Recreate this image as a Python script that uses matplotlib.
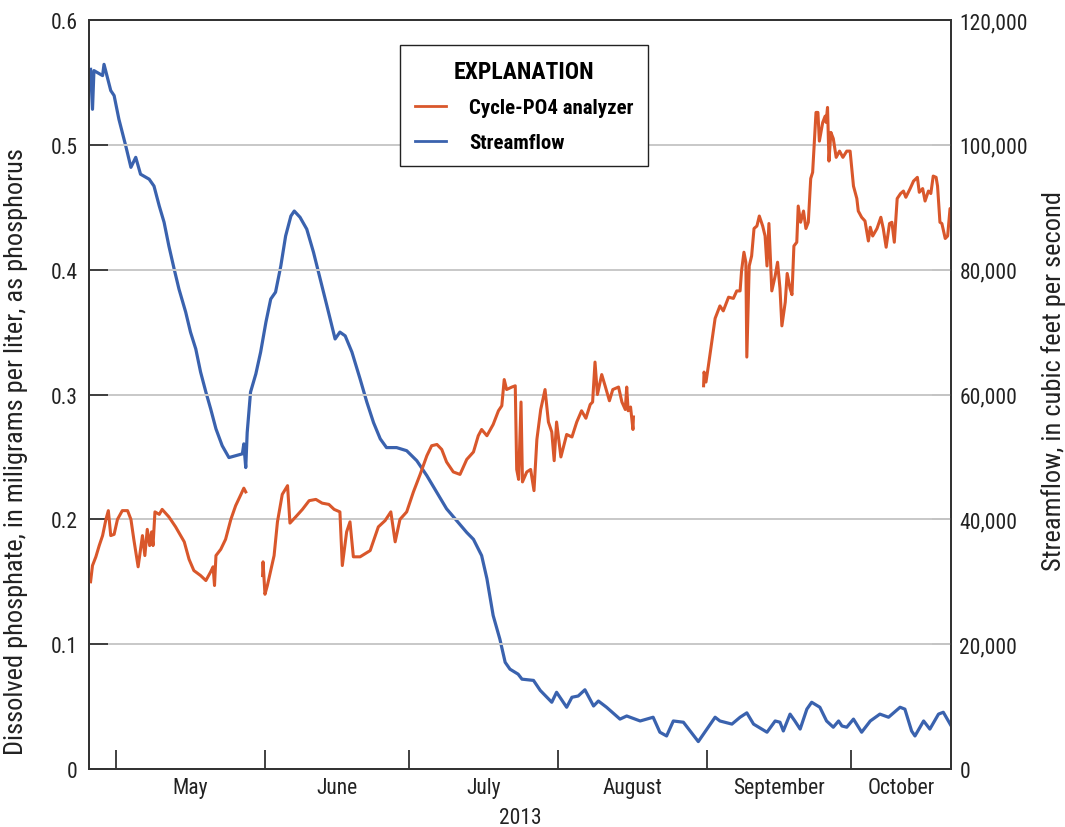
import numpy as np
import pandas as pd
import matplotlib
matplotlib.use("Agg")
import matplotlib.pyplot as plt
from matplotlib.lines import Line2D
from matplotlib.ticker import FuncFormatter, FixedLocator

plt.rcParams['font.family'] = ['Roboto Condensed', 'Liberation Sans Narrow', 'Liberation Sans', 'DejaVu Sans']

# Streamflow, cubic feet per second (x = day of year 2013)
flow_doy = [115.7, 116.1, 116.4, 117.3, 118.2, 118.5, 119.2, 119.9, 120.6, 121.6,
            122.3, 123.0, 124.1, 125.1, 126.1, 127.9, 128.9, 130.0, 131.0, 132.0,
            133.1, 134.1, 135.5, 136.5, 137.6, 138.6, 139.7, 140.7, 141.8, 143.1,
            144.5, 145.9, 147.3, 147.6, 148.0, 148.3, 149.0, 150.1, 151.1, 152.2,
            153.2, 154.2, 155.3, 156.3, 157.4, 158.1, 159.3, 160.7, 162.1, 163.5,
            164.9, 166.6, 167.6, 168.7, 170.1, 171.8, 173.2, 174.6, 176.0, 177.3,
            179.4, 181.5, 183.6, 185.7, 187.8, 189.8, 191.9, 194.0, 195.4, 197.1,
            198.2, 199.5, 200.9, 202.0, 203.0, 204.7, 205.5, 207.9, 209.3, 211.7,
            212.7, 214.8, 215.9, 217.2, 218.6, 220.4, 221.4, 223.1, 225.9, 227.3,
            230.1, 232.8, 234.2, 235.6, 237.0, 239.1, 240.5, 242.2, 244.0, 245.7,
            246.7, 249.2, 250.9, 252.3, 253.7, 256.5, 258.2, 259.2, 259.9, 261.3,
            262.3, 263.4, 264.8, 265.8, 267.5, 268.9, 270.3, 271.4, 272.1, 273.1,
            274.5, 276.2, 278.0, 280.0, 281.8, 284.2, 285.2, 286.6, 287.3, 289.1,
            290.4, 292.2, 293.2, 295.0]
flow_cfs = [112100, 105700, 111900, 111500, 111100, 112900, 110800, 108700, 107900, 104100,
            102000, 99900, 96400, 98000, 95300, 94500, 93400, 90200, 87600, 83800,
            80100, 76900, 73200, 70000, 67300, 63600, 60400, 57700, 54500, 51800,
            49900, 50200, 50500, 52100, 48300, 53900, 60400, 63300, 66800, 71600,
            75300, 76400, 80600, 85400, 88600, 89400, 88400, 86500, 82800, 78500,
            74200, 68900, 70000, 69400, 66800, 62500, 58800, 55500, 52900, 51500,
            51500, 51000, 49400, 47000, 44300, 41700, 39800, 37900, 36800, 34200,
            30500, 24600, 20800, 17100, 16000, 15200, 14400, 14200, 12600, 10700,
            12300, 9900, 11500, 11700, 12700, 10100, 10900, 9900, 8000, 8500,
            7700, 8300, 5900, 5300, 7700, 7500, 6100, 4400, 6400, 8300,
            7700, 7200, 8300, 9000, 7200, 5900, 7700, 7500, 6100, 8800,
            7700, 6400, 9600, 10700, 9900, 7700, 6700, 7700, 6900, 6700,
            8000, 5900, 7700, 8800, 8300, 9900, 9600, 6100, 5300, 7700,
            6400, 8800, 9100, 6700]

# Cycle-PO4 analyzer, mg/L as P -- three record segments
po4_doy_a = [115.7, 116.1, 116.8, 117.5, 118.2, 118.9, 119.4, 119.9, 120.6, 121.3,
             122.3, 123.4, 124.1, 124.7, 125.6, 126.5, 127.0, 127.5, 128.0, 128.4,
             128.7, 129.1, 130.0, 130.6, 132.0, 133.4, 135.2, 136.2, 137.2, 138.6,
             139.7, 140.7, 141.2, 141.5, 141.8, 142.8, 143.8, 144.9, 145.9, 147.0,
             147.6, 148.0]
po4_a = [0.150, 0.163, 0.170, 0.179, 0.187, 0.200, 0.207, 0.187, 0.188, 0.200,
         0.207, 0.207, 0.200, 0.184, 0.162, 0.187, 0.171, 0.192, 0.179, 0.190,
         0.179, 0.206, 0.204, 0.208, 0.202, 0.194, 0.182, 0.168, 0.159, 0.155,
         0.151, 0.158, 0.162, 0.147, 0.171, 0.176, 0.184, 0.200, 0.211, 0.220,
         0.225, 0.222]

po4_doy_b = [151.5, 151.6, 152.0, 152.5, 153.2, 153.9, 154.6, 155.6, 156.7, 157.2,
             158.4, 159.8, 161.2, 162.6, 163.9, 165.3, 166.4, 167.6, 168.1, 169.0,
             169.7, 170.4, 171.8, 173.9, 175.6, 177.0, 178.2, 179.1, 180.1, 181.5,
             182.9, 184.3, 185.7, 186.7, 187.8, 188.8, 189.8, 191.2, 192.6, 194.0,
             195.4, 196.4, 197.1, 198.2, 199.5, 200.6, 201.3, 201.8, 202.3, 203.4,
             204.1, 204.4, 204.8, 205.3, 205.6, 206.5, 207.3, 208.0, 208.6, 209.4,
             210.3, 211.0, 211.7, 212.2, 212.7, 213.6, 214.8, 215.9, 216.9, 217.9,
             218.8, 219.7, 220.2, 220.7, 221.2, 222.1, 222.8, 223.7, 224.4, 225.6,
             226.3, 227.0, 227.3, 227.6, 228.1, 228.6, 228.7]
po4_b = [0.155, 0.166, 0.140, 0.147, 0.159, 0.171, 0.198, 0.220, 0.227, 0.197,
         0.202, 0.208, 0.215, 0.216, 0.213, 0.212, 0.208, 0.206, 0.163, 0.190,
         0.198, 0.170, 0.170, 0.175, 0.194, 0.199, 0.206, 0.182, 0.200, 0.206,
         0.222, 0.236, 0.251, 0.259, 0.260, 0.256, 0.246, 0.238, 0.236, 0.248,
         0.254, 0.267, 0.272, 0.267, 0.276, 0.287, 0.291, 0.312, 0.304, 0.306,
         0.307, 0.240, 0.232, 0.294, 0.230, 0.238, 0.240, 0.223, 0.264, 0.288,
         0.304, 0.278, 0.270, 0.247, 0.278, 0.250, 0.268, 0.266, 0.278, 0.287,
         0.281, 0.292, 0.294, 0.326, 0.300, 0.316, 0.307, 0.295, 0.304, 0.306,
         0.294, 0.288, 0.306, 0.287, 0.290, 0.272, 0.282]

po4_doy_c = [243.3, 243.4, 243.8, 244.3, 245.0, 245.7, 246.7, 247.4, 248.5, 249.5,
             250.2, 250.9, 251.2, 251.7, 252.1, 252.3, 252.8, 253.3, 253.8, 254.4,
             254.9, 255.6, 256.1, 256.5, 256.9, 257.5, 258.2, 258.7, 259.2, 259.6,
             260.3, 260.7, 261.3, 261.7, 262.1, 262.7, 263.0, 263.5, 264.1, 264.6,
             265.1, 265.6, 266.0, 266.7, 267.1, 267.4, 268.1, 268.6, 268.8, 269.1,
             269.4, 269.8, 270.3, 270.9, 271.6, 272.3, 273.1, 273.8, 274.5, 275.2,
             275.5, 276.2, 276.9, 277.6, 278.0, 278.5, 279.4, 280.2, 280.7, 281.3,
             282.0, 282.5, 283.0, 283.6, 284.3, 284.9, 285.4, 286.3, 287.0, 287.8,
             288.2, 288.9, 289.4, 290.1, 290.6, 291.1, 291.7, 292.0, 292.5, 292.9,
             293.6, 294.1, 294.6, 295.3]
po4_c = [0.307, 0.318, 0.310, 0.323, 0.342, 0.361, 0.371, 0.367, 0.378, 0.377,
         0.383, 0.383, 0.399, 0.414, 0.406, 0.330, 0.403, 0.411, 0.433, 0.435,
         0.443, 0.435, 0.427, 0.403, 0.437, 0.383, 0.395, 0.406, 0.385, 0.355,
         0.374, 0.397, 0.385, 0.380, 0.419, 0.422, 0.451, 0.438, 0.447, 0.433,
         0.438, 0.473, 0.478, 0.526, 0.526, 0.503, 0.518, 0.523, 0.518, 0.530,
         0.487, 0.510, 0.505, 0.490, 0.495, 0.490, 0.495, 0.495, 0.467, 0.457,
         0.447, 0.442, 0.439, 0.423, 0.434, 0.427, 0.433, 0.442, 0.433, 0.418,
         0.437, 0.438, 0.422, 0.457, 0.461, 0.463, 0.458, 0.465, 0.471, 0.474,
         0.462, 0.465, 0.455, 0.463, 0.461, 0.475, 0.474, 0.467, 0.438, 0.437,
         0.425, 0.427, 0.449, 0.431]

month_names = ['May', 'June', 'July', 'August', 'September', 'October']
month_starts = ['2013-05-01', '2013-06-01', '2013-07-01', '2013-08-01', '2013-09-01', '2013-10-01']

orange = '#D9572B'
blue = '#3A62AE'
dark = '#333333'
txt = '#222222'
fs = 15.5
lab_fs = 19

fig = plt.figure(figsize=(10.65, 8.28), dpi=100)
ax1 = fig.add_axes([0.0836, 0.0700, 0.8094, 0.9046])
ax2 = ax1.twinx()
ax1.set_zorder(ax2.get_zorder() + 1)
ax1.patch.set_visible(False)

xmin, xmax = 115.38, 294.81

# gridlines
for v in [0.1, 0.2, 0.3, 0.4, 0.5]:
    ax1.axhline(v, color='#c8c8c8', lw=1.4, zorder=0)

ax2.plot(flow_doy, flow_cfs, color=blue, lw=2.3, solid_joinstyle='round')
for xs, ys in [(po4_doy_a, po4_a), (po4_doy_b, po4_b), (po4_doy_c, po4_c)]:
    ax1.plot(xs, ys, color=orange, lw=2.2, solid_joinstyle='round')

ax1.set_xlim(xmin, xmax)
ax1.set_ylim(0, 0.6)
ax2.set_ylim(0, 120000)

# x ticks at month boundaries, labels mid-month
starts = [pd.Timestamp(s).dayofyear for s in month_starts]
mids = [(a + b) / 2 for a, b in zip(starts, starts[1:] + [xmax])]
ax1.xaxis.set_major_locator(FixedLocator(starts))
ax1.xaxis.set_major_formatter(FuncFormatter(lambda v, p: ''))
ax1.xaxis.set_minor_locator(FixedLocator(mids))
ax1.set_xticklabels(month_names, minor=True)
ax1.tick_params(axis='x', which='major', direction='in', length=13.5, width=1.3,
                color=dark, top=False)
ax1.tick_params(axis='x', which='minor', length=0, pad=6, labelsize=fs,
                labelcolor=txt)

ax1.set_yticks([0, 0.1, 0.2, 0.3, 0.4, 0.5, 0.6])
ax1.yaxis.set_major_formatter(FuncFormatter(lambda v, p: '0' if v == 0 else f'{v:.1f}'))
ax1.tick_params(axis='y', direction='in', length=13.5, width=1.3, color=dark,
                labelsize=fs, pad=8, labelcolor=txt)
ax2.set_yticks(np.arange(0, 120001, 20000))
ax2.yaxis.set_major_formatter(FuncFormatter(lambda v, p: f'{int(v):,}'))
ax2.tick_params(axis='y', direction='in', length=13.5, width=1.3, color=dark,
                labelsize=fs, pad=6, labelcolor=txt)

for ax in (ax1, ax2):
    for s in ax.spines.values():
        s.set_color(dark)
        s.set_linewidth(1.3)

ax1.set_xlabel('2013', fontsize=fs, color=txt)
ax1.xaxis.set_label_coords(0.5, -0.051)
ax1.set_ylabel('Dissolved phosphate, in miligrams per liter, as phosphorus',
               fontsize=lab_fs, color=txt)
ax1.yaxis.set_label_coords(-0.071, 0.425)
ax2.set_ylabel('Streamflow, in cubic feet per second', fontsize=lab_fs, color=txt)
ax2.yaxis.set_label_coords(1.104, 0.52)

handles = [Line2D([], [], color=orange, lw=2.0), Line2D([], [], color=blue, lw=2.0)]
leg = ax1.legend(handles, ['Cycle-PO4 analyzer', 'Streamflow'],
                 title='EXPLANATION', loc='upper left',
                 bbox_to_anchor=(0.3608, 0.9666), borderaxespad=0,
                 frameon=True, fancybox=False, edgecolor=txt,
                 prop={'weight': 'bold', 'size': 15},
                 title_fontproperties={'weight': 'bold', 'size': 17},
                 handlelength=1.5, handletextpad=1.1, labelspacing=0.75,
                 borderpad=0.7, framealpha=1)
leg.get_frame().set_linewidth(1.0)

fig.savefig('out.png', dpi=100)
